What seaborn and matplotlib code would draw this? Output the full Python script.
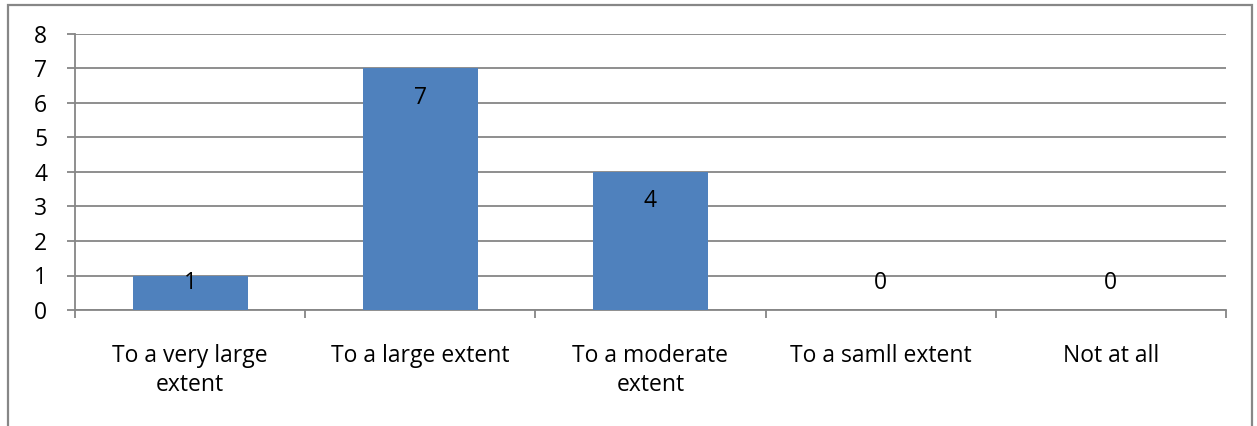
import numpy as np
import pandas as pd
import matplotlib.pyplot as plt
import seaborn as sns
from matplotlib.patches import Rectangle

categories = ['To a very large\nextent', 'To a large extent', 'To a moderate\nextent',
              'To a samll extent', 'Not at all']
counts = [1, 7, 4, 0, 0]

df = pd.DataFrame({'category': categories, 'count': counts})

sns.set_style('white')
plt.rcParams['font.family'] = ['Open Sans', 'DejaVu Sans']

fig = plt.figure(figsize=(12.57, 4.26), dpi=100)
ax = fig.add_axes([75 / 1257, 1 - 310 / 426, (1226 - 75) / 1257, (310 - 34) / 426])

grid_col = '#868686'
fs = 16.5
sns.barplot(data=df, x='category', y='count', color='#4F81BD', width=0.5,
            saturation=1, ax=ax, zorder=3, edgecolor='none', linewidth=0)

ax.set_ylim(0, 8)
ax.set_xlim(-0.5, len(categories) - 0.5)
ax.set_yticks(range(0, 9))
ax.yaxis.grid(True, color=grid_col, linewidth=1.3, zorder=0)
ax.set_axisbelow(True)
ax.set_xlabel('')
ax.set_ylabel('')

for s in ['top', 'right']:
    ax.spines[s].set_visible(False)
for s in ['left', 'bottom']:
    ax.spines[s].set_color(grid_col)
    ax.spines[s].set_linewidth(1.3)

ax.tick_params(axis='y', which='major', left=True, length=6, width=1.3, color=grid_col,
               pad=14, labelsize=fs, labelcolor='black')
ax.tick_params(axis='x', which='major', bottom=False, pad=21, labelsize=fs,
               labelcolor='black')
for lbl in ax.get_xticklabels():
    lbl.set_linespacing(1.25)
ax.set_xticks(np.arange(-0.5, len(categories)), minor=True)
ax.tick_params(axis='x', which='minor', bottom=True, length=6, width=1.3, color=grid_col)

vals = np.array(counts, dtype=float)
label_y = np.where(vals >= 2, vals - 0.85, 0.78)
for i, (v, y) in enumerate(zip(counts, label_y)):
    ax.text(i, y, str(v), ha='center', va='center', fontsize=fs, color='black', zorder=4)

fig.patches.append(Rectangle((8 / 1257, -0.05), (1252 - 8) / 1257, 1.05 - 5 / 426,
                             transform=fig.transFigure, fill=False,
                             edgecolor='#878787', linewidth=1.6))

fig.savefig('out.png', dpi=100)
